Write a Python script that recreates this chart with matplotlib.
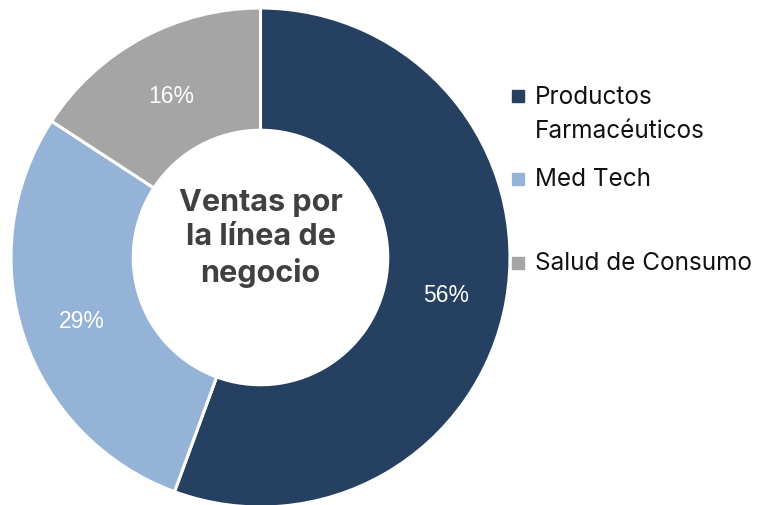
import matplotlib.pyplot as plt
from matplotlib.patches import Rectangle

# ventas por linea de negocio
categorias = ["Productos\nFarmacéuticos", "Med Tech", "Salud de Consumo"]
valores = [55.6, 28.6, 15.8]
colores = ["#264061", "#95B3D7", "#A5A5A5"]
titulo = "Ventas por\nla línea de\nnegocio"

W, H = 768, 506
fig = plt.figure(figsize=(W / 100, H / 100), dpi=100)

# donut: centre ~ (260.5, 258.5) px, radius ~249.5 px
cx, cy, r = 260.5, 258.5, 249.5
ax = fig.add_axes([(cx - r) / W, (H - cy - r) / H, 2 * r / W, 2 * r / H])

wedges, texts, autotexts = ax.pie(
    valores, colors=colores, startangle=90, counterclock=False,
    radius=1, autopct="%.0f%%", pctdistance=0.755,
    wedgeprops=dict(width=0.49, edgecolor="white", linewidth=2.2),
    textprops=dict(color="white", fontsize=16.5, family="Liberation Sans"),
)
for w in wedges:
    w.set_clip_on(False)
for t in autotexts:
    x, y = t.get_position()
    t.set_position((x, y - 0.015))
ax.set_xlim(-1, 1)
ax.set_ylim(-1, 1)
ax.axis("off")

ax.text(0, 0.08, titulo, ha="center", va="center", fontsize=22,
        fontweight="bold", color="#404040", family="Inter",
        linespacing=1.3)

# legend drawn by hand to keep the uneven spacing
leg_y = [97, 180, 264]
for lab, col, y in zip(categorias, colores, leg_y):
    fig.add_artist(Rectangle((512 / W, (H - y - 6) / H), 12 / W, 12 / H,
                             transform=fig.transFigure, color=col))
    fig.text(535 / W, (H - y) / H, lab, ha="left", va="center",
             fontsize=17.5, family="Inter", color="#111111", linespacing=1.6)

# first entry is two lines, centre the block so the first line sits on the marker
fig.texts[0].set_position((535 / W, (H - 114.5) / H))

fig.savefig("out.png", dpi=100)
